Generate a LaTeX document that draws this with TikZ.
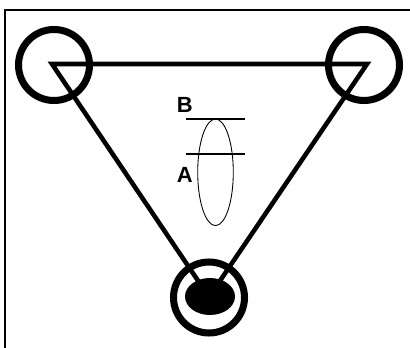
\documentclass[tikz,border=0pt]{standalone}
\usepackage{fontspec}
\setmainfont{Liberation Sans}
\usetikzlibrary{positioning}

\begin{document}
\begin{tikzpicture}[x=0.02cm, y=-0.02cm]
  \useasboundingbox (0,0) rectangle (410,348);
  % frame
  \draw[line width=0.8pt] (5,352) -- (5,10) -- (414,10);

  % triangle
  \draw[line width=2.6pt] (52,64) -- (367,64) -- (209,297) -- cycle;
  \fill[black] (210,296.5) ellipse (25 and 18.5);

  % rings
  \draw[line width=4pt] (54,65) circle (35.5);
  \draw[line width=4pt] (364,65) circle (35.5);
  \draw[line width=4pt] (209,297.5) circle (35.5);

  % ellipse with levels
  \draw[line width=0.5pt] (215.5,172.3) ellipse (17.8 and 53.3);
  \draw[line width=1.1pt] (185.7,119) -- (245,119);
  \draw[line width=1.1pt] (185.7,154) -- (245,154);
  \node[font=\fontsize{12.5}{14}\selectfont\bfseries] (labB) at (184.7,104.5) {B};
  \node[font=\fontsize{12.5}{14}\selectfont\bfseries] (labA) at (184.7,175) {A};
\end{tikzpicture}
\end{document}
